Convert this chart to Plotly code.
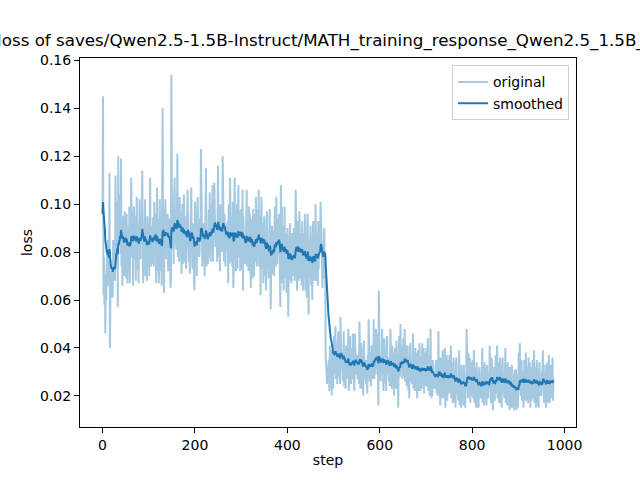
import math
import plotly.graph_objects as go

# training loss, one value per step (0 .. 976)
loss = [
    0.096, 0.145, 0.062, 0.078, 0.058, 0.071, 0.046, 0.069, 0.060, 0.074,
    0.081, 0.066, 0.085, 0.068, 0.072, 0.113, 0.040, 0.061, 0.062, 0.066,
    0.072, 0.070, 0.061, 0.085, 0.081, 0.068, 0.075, 0.068, 0.112, 0.088,
    0.094, 0.078, 0.101, 0.057, 0.120, 0.083, 0.098, 0.086, 0.104, 0.079,
    0.119, 0.074, 0.088, 0.066, 0.095, 0.079, 0.083, 0.070, 0.097, 0.089,
    0.089, 0.069, 0.096, 0.076, 0.067, 0.091, 0.084, 0.072, 0.099, 0.067,
    0.093, 0.084, 0.111, 0.087, 0.078, 0.097, 0.066, 0.092, 0.099, 0.083,
    0.077, 0.095, 0.068, 0.087, 0.103, 0.073, 0.080, 0.092, 0.067, 0.088,
    0.102, 0.084, 0.077, 0.094, 0.084, 0.099, 0.114, 0.080, 0.067, 0.079,
    0.073, 0.088, 0.102, 0.070, 0.090, 0.077, 0.068, 0.095, 0.075, 0.092,
    0.089, 0.070, 0.095, 0.111, 0.079, 0.074, 0.091, 0.082, 0.075, 0.094,
    0.094, 0.074, 0.101, 0.081, 0.091, 0.096, 0.067, 0.077, 0.107, 0.072,
    0.076, 0.094, 0.067, 0.086, 0.102, 0.072, 0.079, 0.091, 0.066, 0.087,
    0.140, 0.085, 0.098, 0.063, 0.094, 0.081, 0.102, 0.077, 0.096, 0.084,
    0.082, 0.096, 0.072, 0.090, 0.079, 0.094, 0.070, 0.065, 0.068, 0.154,
    0.103, 0.088, 0.081, 0.098, 0.075, 0.103, 0.111, 0.084, 0.094, 0.083,
    0.081, 0.096, 0.121, 0.078, 0.098, 0.085, 0.076, 0.103, 0.083, 0.089,
    0.090, 0.071, 0.096, 0.100, 0.080, 0.075, 0.104, 0.083, 0.076, 0.095,
    0.093, 0.073, 0.085, 0.080, 0.106, 0.095, 0.088, 0.076, 0.083, 0.071,
    0.077, 0.095, 0.107, 0.087, 0.088, 0.073, 0.080, 0.092, 0.067, 0.064,
    0.101, 0.083, 0.076, 0.093, 0.070, 0.098, 0.103, 0.079, 0.089, 0.078,
    0.079, 0.094, 0.088, 0.123, 0.096, 0.083, 0.074, 0.080, 0.081, 0.092,
    0.089, 0.070, 0.095, 0.084, 0.115, 0.074, 0.082, 0.082, 0.075, 0.094,
    0.098, 0.078, 0.105, 0.085, 0.076, 0.100, 0.093, 0.081, 0.108, 0.076,
    0.086, 0.104, 0.109, 0.096, 0.090, 0.082, 0.089, 0.091, 0.076, 0.097,
    0.116, 0.085, 0.078, 0.095, 0.072, 0.100, 0.092, 0.081, 0.091, 0.080,
    0.120, 0.094, 0.090, 0.076, 0.096, 0.083, 0.074, 0.084, 0.081, 0.092,
    0.090, 0.093, 0.067, 0.100, 0.080, 0.075, 0.111, 0.083, 0.076, 0.095,
    0.094, 0.074, 0.101, 0.065, 0.072, 0.096, 0.111, 0.077, 0.098, 0.072,
    0.082, 0.100, 0.073, 0.092, 0.108, 0.078, 0.085, 0.097, 0.072, 0.093,
    0.098, 0.080, 0.073, 0.106, 0.064, 0.095, 0.087, 0.076, 0.086, 0.075,
    0.077, 0.092, 0.106, 0.074, 0.094, 0.081, 0.072, 0.099, 0.079, 0.096,
    0.084, 0.065, 0.090, 0.094, 0.074, 0.069, 0.098, 0.077, 0.070, 0.089,
    0.096, 0.076, 0.103, 0.083, 0.074, 0.098, 0.091, 0.079, 0.106, 0.074,
    0.077, 0.095, 0.062, 0.087, 0.103, 0.073, 0.086, 0.092, 0.067, 0.088,
    0.095, 0.077, 0.070, 0.087, 0.064, 0.092, 0.097, 0.073, 0.083, 0.072,
    0.069, 0.084, 0.098, 0.080, 0.056, 0.073, 0.080, 0.091, 0.071, 0.088,
    0.089, 0.070, 0.095, 0.099, 0.079, 0.074, 0.103, 0.082, 0.075, 0.094,
    0.089, 0.079, 0.096, 0.076, 0.067, 0.057, 0.108, 0.072, 0.099, 0.067,
    0.073, 0.091, 0.064, 0.083, 0.099, 0.069, 0.076, 0.088, 0.063, 0.084,
    0.090, 0.072, 0.053, 0.082, 0.071, 0.087, 0.092, 0.068, 0.078, 0.067,
    0.073, 0.088, 0.082, 0.070, 0.090, 0.077, 0.068, 0.084, 0.106, 0.092,
    0.083, 0.064, 0.089, 0.093, 0.073, 0.068, 0.097, 0.076, 0.069, 0.088,
    0.086, 0.066, 0.093, 0.073, 0.064, 0.088, 0.081, 0.069, 0.096, 0.064,
    0.070, 0.088, 0.061, 0.090, 0.096, 0.066, 0.054, 0.085, 0.069, 0.081,
    0.091, 0.073, 0.066, 0.083, 0.060, 0.088, 0.093, 0.069, 0.079, 0.068,
    0.071, 0.100, 0.086, 0.068, 0.088, 0.075, 0.066, 0.093, 0.073, 0.090,
    0.083, 0.084, 0.101, 0.093, 0.073, 0.068, 0.065, 0.076, 0.069, 0.088,
    0.090, 0.072, 0.078, 0.036, 0.029, 0.033, 0.025, 0.031, 0.027, 0.034,
    0.035, 0.022, 0.041, 0.027, 0.024, 0.039, 0.020, 0.032, 0.037, 0.023,
    0.032, 0.045, 0.029, 0.039, 0.049, 0.027, 0.034, 0.042, 0.025, 0.038,
    0.047, 0.034, 0.028, 0.041, 0.025, 0.053, 0.039, 0.032, 0.038, 0.033,
    0.026, 0.036, 0.047, 0.024, 0.038, 0.029, 0.023, 0.041, 0.027, 0.039,
    0.035, 0.033, 0.048, 0.022, 0.028, 0.025, 0.045, 0.030, 0.025, 0.039,
    0.040, 0.027, 0.046, 0.032, 0.029, 0.022, 0.046, 0.037, 0.042, 0.029,
    0.030, 0.037, 0.027, 0.037, 0.034, 0.025, 0.051, 0.040, 0.023, 0.036,
    0.042, 0.029, 0.023, 0.036, 0.020, 0.039, 0.043, 0.027, 0.033, 0.028,
    0.025, 0.035, 0.030, 0.021, 0.037, 0.028, 0.052, 0.028, 0.026, 0.038,
    0.037, 0.024, 0.041, 0.037, 0.030, 0.027, 0.034, 0.052, 0.027, 0.041,
    0.042, 0.029, 0.048, 0.034, 0.031, 0.046, 0.027, 0.016, 0.064, 0.033,
    0.029, 0.034, 0.026, 0.036, 0.030, 0.048, 0.031, 0.039, 0.022, 0.035,
    0.044, 0.031, 0.025, 0.038, 0.022, 0.041, 0.045, 0.029, 0.035, 0.030,
    0.026, 0.036, 0.024, 0.048, 0.038, 0.029, 0.023, 0.041, 0.027, 0.038,
    0.033, 0.020, 0.037, 0.040, 0.026, 0.023, 0.043, 0.028, 0.023, 0.037,
    0.015, 0.035, 0.045, 0.031, 0.028, 0.050, 0.032, 0.036, 0.041, 0.027,
    0.031, 0.044, 0.028, 0.038, 0.048, 0.026, 0.033, 0.041, 0.024, 0.037,
    0.041, 0.028, 0.022, 0.035, 0.019, 0.038, 0.042, 0.026, 0.032, 0.027,
    0.025, 0.035, 0.046, 0.023, 0.037, 0.028, 0.022, 0.040, 0.026, 0.038,
    0.032, 0.019, 0.036, 0.039, 0.025, 0.022, 0.042, 0.027, 0.022, 0.036,
    0.036, 0.023, 0.042, 0.028, 0.025, 0.040, 0.021, 0.033, 0.038, 0.024,
    0.027, 0.040, 0.024, 0.034, 0.044, 0.022, 0.029, 0.037, 0.020, 0.033,
    0.048, 0.025, 0.019, 0.032, 0.020, 0.035, 0.025, 0.023, 0.029, 0.024,
    0.023, 0.033, 0.035, 0.021, 0.035, 0.026, 0.020, 0.047, 0.024, 0.036,
    0.029, 0.016, 0.033, 0.036, 0.022, 0.019, 0.039, 0.024, 0.019, 0.033,
    0.033, 0.040, 0.015, 0.025, 0.026, 0.037, 0.018, 0.030, 0.035, 0.021,
    0.024, 0.037, 0.021, 0.031, 0.041, 0.019, 0.026, 0.034, 0.017, 0.030,
    0.036, 0.023, 0.017, 0.030, 0.015, 0.033, 0.036, 0.021, 0.027, 0.022,
    0.018, 0.028, 0.039, 0.016, 0.030, 0.021, 0.015, 0.033, 0.019, 0.031,
    0.029, 0.016, 0.033, 0.023, 0.022, 0.015, 0.027, 0.024, 0.048, 0.033,
    0.032, 0.019, 0.038, 0.024, 0.021, 0.036, 0.017, 0.029, 0.034, 0.020,
    0.022, 0.035, 0.019, 0.029, 0.039, 0.017, 0.024, 0.032, 0.015, 0.028,
    0.034, 0.021, 0.015, 0.028, 0.015, 0.031, 0.032, 0.019, 0.025, 0.020,
    0.019, 0.029, 0.040, 0.017, 0.031, 0.022, 0.016, 0.034, 0.020, 0.032,
    0.029, 0.016, 0.033, 0.028, 0.022, 0.019, 0.025, 0.024, 0.041, 0.033,
    0.030, 0.017, 0.036, 0.032, 0.019, 0.014, 0.025, 0.027, 0.032, 0.018,
    0.024, 0.037, 0.021, 0.031, 0.041, 0.019, 0.026, 0.034, 0.017, 0.030,
    0.036, 0.023, 0.017, 0.030, 0.015, 0.033, 0.036, 0.021, 0.027, 0.022,
    0.019, 0.029, 0.040, 0.017, 0.031, 0.022, 0.016, 0.034, 0.020, 0.032,
    0.025, 0.014, 0.029, 0.032, 0.018, 0.015, 0.033, 0.020, 0.015, 0.029,
    0.027, 0.014, 0.031, 0.019, 0.016, 0.031, 0.014, 0.024, 0.029, 0.015,
    0.025, 0.038, 0.022, 0.042, 0.032, 0.020, 0.027, 0.035, 0.018, 0.031,
    0.028, 0.015, 0.032, 0.035, 0.021, 0.018, 0.038, 0.023, 0.018, 0.032,
    0.030, 0.017, 0.036, 0.022, 0.019, 0.034, 0.015, 0.027, 0.032, 0.018,
    0.022, 0.035, 0.019, 0.029, 0.039, 0.017, 0.024, 0.032, 0.015, 0.028,
    0.035, 0.022, 0.016, 0.029, 0.015, 0.032, 0.034, 0.020, 0.026, 0.021,
    0.020, 0.030, 0.026, 0.039, 0.032, 0.023, 0.017, 0.029, 0.021, 0.033,
    0.015, 0.026, 0.031, 0.034, 0.020, 0.017, 0.037, 0.022, 0.017, 0.031,
    0.033, 0.019, 0.030, 0.022, 0.036, 0.018, 0.027,
]
steps = list(range(len(loss)))

x_ticks = [0, 200, 400, 600, 800, 1000]
y_ticks = [0.02, 0.04, 0.06, 0.08, 0.10, 0.12, 0.14, 0.16]
y_tick_labels = ["0.02", "0.04", "0.06", "0.08", "0.10", "0.12", "0.14", "0.16"]

title_text = ("training loss of saves/Qwen2.5-1.5B-Instruct/"
              "MATH_training_response_Qwen2.5_1.5B_full_sft_e3")


def smooth(scalars):
    """EMA smoothing used by the training plotter."""
    last = scalars[0]
    out = []
    weight = 1.8 * (1 / (1 + math.exp(-0.05 * len(scalars))) - 0.5)
    for v in scalars:
        s = last * weight + (1 - weight) * v
        out.append(s)
        last = s
    return out


smoothed = smooth(loss)

# matplotlib-style 5% margins
xmin, xmax = min(steps), max(steps)
xpad = (xmax - xmin) * 0.05
ymin = min(min(loss), min(smoothed))
ymax = max(max(loss), max(smoothed))
ypad = (ymax - ymin) * 0.05

FONT = "DejaVu Sans"

fig = go.Figure()
fig.add_trace(go.Scatter(
    x=steps, y=loss, mode="lines", name="original",
    line=dict(color="rgba(31,119,180,0.4)", width=2),
))
fig.add_trace(go.Scatter(
    x=steps, y=smoothed, mode="lines", name="smoothed",
    line=dict(color="#1f77b4", width=2),
))

fig.update_layout(
    width=640, height=480,
    margin=dict(l=80, r=64, t=58, b=53, pad=0),
    paper_bgcolor="white", plot_bgcolor="white",
    font=dict(family=FONT, size=14, color="black"),
    title=dict(text=title_text, x=0.5, xref="paper", xanchor="center",
               y=1 - 40 / 480, yref="container", yanchor="middle",
               font=dict(family=FONT, size=16.7, color="black")),
    showlegend=True,
    legend=dict(x=0.986, y=0.98, xanchor="right", yanchor="top",
                bgcolor="rgba(255,255,255,0.8)", bordercolor="#d0d0d0",
                borderwidth=1, font=dict(family=FONT, size=14)),
)
fig.update_xaxes(
    range=[xmin - xpad, xmax + xpad], automargin=False,
    tickmode="array", tickvals=x_ticks,
    ticks="outside", ticklen=5, tickwidth=1, tickcolor="black",
    showline=True, linecolor="black", linewidth=1, mirror=True,
    showgrid=False, zeroline=False,
    title=dict(text="step", font=dict(family=FONT, size=14), standoff=3),
    tickfont=dict(family=FONT, size=14),
)
fig.update_yaxes(
    range=[ymin - ypad, ymax + ypad], automargin=False,
    tickmode="array", tickvals=y_ticks, ticktext=y_tick_labels,
    ticks="outside", ticklen=5, tickwidth=1, tickcolor="black",
    showline=True, linecolor="black", linewidth=1, mirror=True,
    showgrid=False, zeroline=False,
    title=dict(text="loss", font=dict(family=FONT, size=14), standoff=4),
    tickfont=dict(family=FONT, size=14),
)

fig.write_html(
    "out.html",
    config={"displayModeBar": False},
    post_script="document.body.style.margin='0';document.body.style.overflow='hidden';",
)
